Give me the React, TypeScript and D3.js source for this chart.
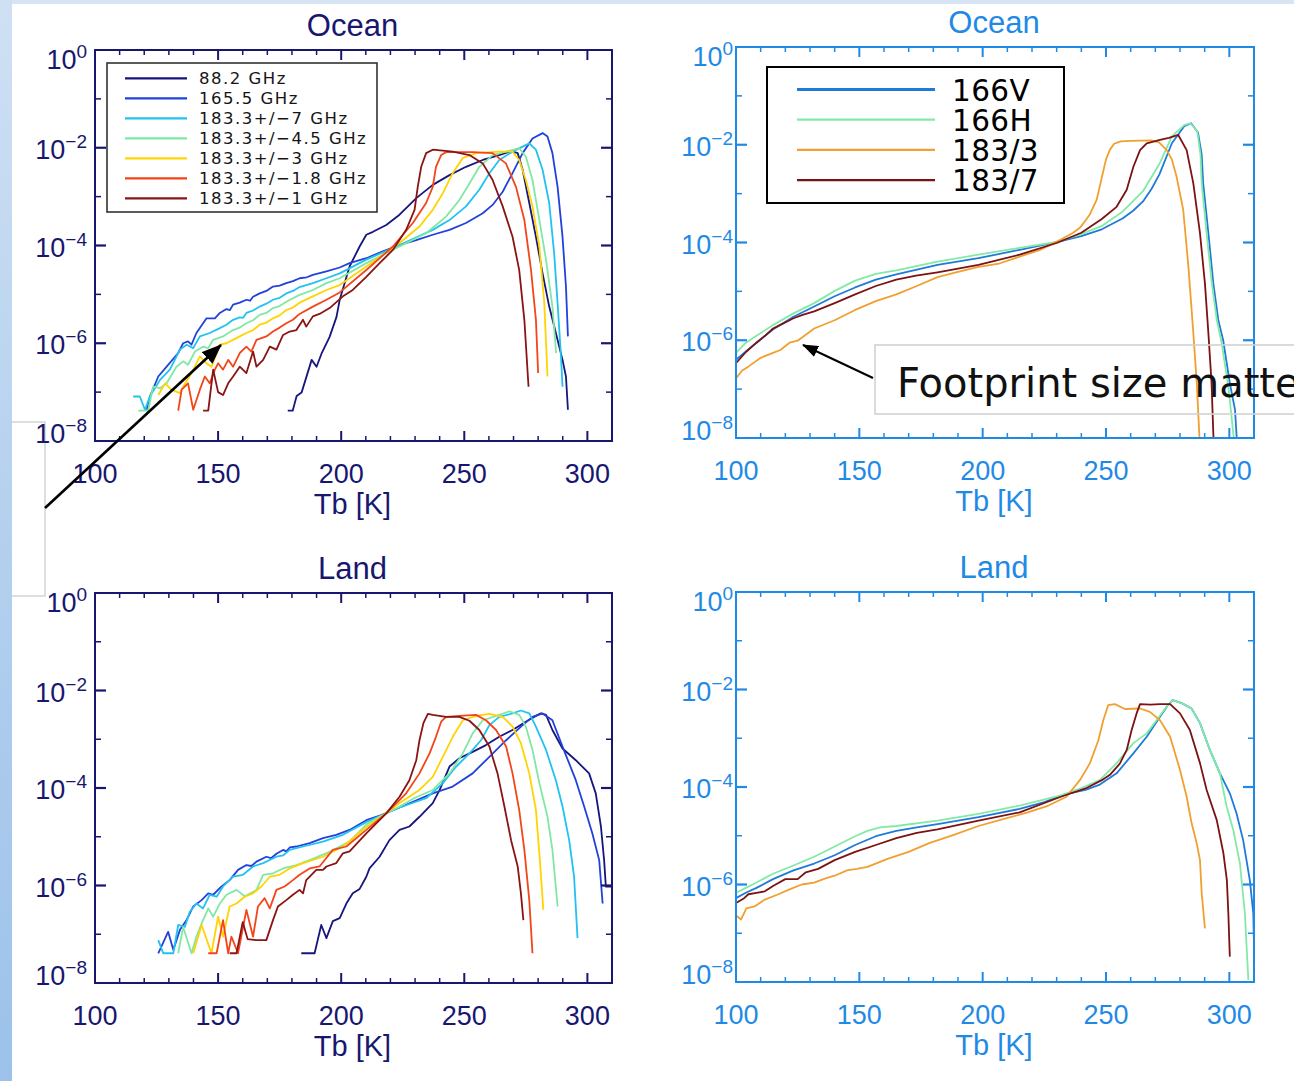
import React from 'react';
import * as d3 from 'd3';

type Pt = [number, number]; // [Tb in K, log10 of PDF]

// ---------- axes ----------
const X_DOMAIN: [number, number] = [100, 310];
const X_MAJOR = [100, 150, 200, 250, 300];
const X_MINOR = [110, 120, 130, 140, 160, 170, 180, 190, 210, 220, 230, 240, 260, 270, 280, 290];
const Y_LABEL_EXP = [0, -2, -4, -6, -8];
const Y_MINOR_EXP = [-1, -3, -5, -7];

// ---------- left column (channels) ----------
const leftNames = ['88.2 GHz', '165.5 GHz', '183.3+/\u22127 GHz', '183.3+/\u22124.5 GHz', '183.3+/\u22123 GHz', '183.3+/\u22121.8 GHz', '183.3+/\u22121 GHz'];
const leftColors = ['#16167e', '#2142da', '#22c2f0', '#80e8a2', '#ffd400', '#f2461a', '#8a1414'];

const oceanL88: Pt[] = [[178.3,-7.38],[180.3,-7.38],[181.9,-7.08],[183.9,-7.01],[188.0,-6.34],[190.0,-6.48],[192.1,-6.2],[195.3,-5.87],[198.1,-5.46],[199.4,-5.11],[203.4,-4.43],[207.5,-4.02],[210.2,-3.78],[212.9,-3.72],[218.3,-3.58],[223.7,-3.37],[230.5,-3.03],[237.2,-2.76],[244,-2.56],[250.7,-2.39],[257.5,-2.25],[264.2,-2.15],[269,-2.07],[271.7,-2.11],[273.7,-2.45],[276.4,-3.13],[279.1,-3.82],[281.8,-4.57],[284.5,-5.25],[287.2,-5.79],[289.9,-6.34],[291.3,-6.68],[292.1,-7.36]];
const oceanL165: Pt[] = [[121,-7.36],[122.3,-7.09],[125.7,-6.68],[129.1,-6.48],[133.8,-6.2],[135.8,-6.0],[137.8,-5.96],[139.2,-6.03],[141.2,-5.79],[145.3,-5.49],[148.7,-5.49],[150.7,-5.38],[153.4,-5.3],[154.8,-5.32],[156.1,-5.21],[158.8,-5.17],[161.5,-5.11],[163,-5.13],[164.2,-5.05],[166.9,-4.98],[169.6,-4.93],[172.3,-4.84],[175,-4.82],[177.7,-4.77],[180.4,-4.73],[183.1,-4.67],[186,-4.65],[188.5,-4.6],[194,-4.53],[199.4,-4.45],[203.4,-4.36],[210.2,-4.26],[216.9,-4.12],[223.7,-3.99],[230.5,-3.89],[237.2,-3.78],[244,-3.68],[250.7,-3.54],[257.5,-3.34],[261.5,-3.17],[265.6,-2.9],[269.6,-2.52],[273.7,-2.11],[277.7,-1.81],[281.8,-1.7],[283.8,-1.77],[285.8,-2.11],[287.9,-2.8],[289.9,-3.82],[291.3,-4.84],[292.1,-5.86]];
const oceanL7: Pt[] = [[115.5,-7.09],[118.2,-7.09],[120.3,-7.36],[122.3,-7.09],[126.4,-6.75],[130.4,-6.54],[134.5,-6.13],[137.2,-6.03],[139.9,-6.1],[142.6,-5.86],[146.6,-5.79],[150.7,-5.69],[153.4,-5.62],[156.1,-5.52],[158.8,-5.47],[160.2,-5.48],[161.5,-5.38],[164.2,-5.33],[166.9,-5.25],[169.6,-5.19],[172.3,-5.11],[175,-5.07],[177.7,-4.98],[180.4,-4.93],[183.1,-4.85],[188.5,-4.77],[194,-4.67],[199.4,-4.57],[210.2,-4.29],[223.7,-3.99],[237.2,-3.68],[244,-3.48],[250.7,-3.2],[256.1,-2.86],[260.2,-2.52],[264.2,-2.25],[269.6,-2.08],[276.4,-1.91],[279.1,-2.04],[281.8,-2.45],[284.5,-3.13],[286.5,-4.16],[287.9,-5.18],[289.2,-6.2],[289.9,-6.89]];
const oceanL45: Pt[] = [[117.6,-7.38],[121.6,-7.38],[123.6,-6.89],[126.4,-6.92],[129.1,-6.82],[133.1,-6.48],[135.8,-6.37],[137.8,-6.44],[140.6,-6.17],[143.9,-6.07],[146,-6.1],[148,-5.93],[152,-5.86],[156.1,-5.73],[158.8,-5.68],[161.5,-5.59],[164.2,-5.53],[166.9,-5.42],[169.6,-5.38],[172.3,-5.28],[175,-5.24],[177.7,-5.15],[183.1,-5.01],[188.5,-4.91],[194,-4.77],[199.4,-4.67],[210.2,-4.36],[223.7,-4.02],[234.5,-3.75],[242.6,-3.41],[248,-3.07],[252.1,-2.73],[256.1,-2.39],[261.5,-2.15],[266.9,-2.08],[272.3,-2.01],[275,-2.18],[277.7,-2.66],[280.5,-3.48],[283.2,-4.29],[285.8,-5.25],[287.3,-6.2]];
const oceanL3: Pt[] = [[125.7,-7.06],[128.5,-6.82],[131,-6.95],[134.5,-7.02],[135.8,-6.89],[139.2,-6.61],[142.6,-6.27],[145.3,-6.41],[147.3,-6.48],[148.7,-6.3],[150.7,-6.03],[153.4,-6.0],[156.1,-5.93],[158.8,-5.86],[161.5,-5.79],[164.2,-5.73],[166.9,-5.62],[169.6,-5.58],[172.3,-5.49],[175,-5.43],[177.7,-5.32],[180.4,-5.27],[183.1,-5.17],[188.5,-5.04],[194,-4.91],[199.4,-4.81],[210.2,-4.43],[223.7,-3.95],[231.8,-3.61],[237.2,-3.27],[241.3,-2.93],[245.3,-2.52],[249.4,-2.21],[254.8,-2.11],[264.2,-2.08],[269.6,-2.08],[272.3,-2.25],[275,-2.66],[277.7,-3.2],[280.5,-4.02],[282.5,-5.18],[283.8,-6.68]];
const oceanL18: Pt[] = [[133.8,-7.38],[135.2,-6.95],[137.8,-6.82],[139.9,-7.36],[142.6,-6.95],[144.6,-6.68],[146.6,-6.82],[148.7,-6.54],[150,-6.41],[152,-6.54],[154.1,-6.34],[156.1,-6.48],[158.8,-6.2],[161.5,-6.07],[163.5,-6.17],[165.6,-5.93],[169.6,-5.86],[172.3,-5.76],[175,-5.68],[177.7,-5.59],[180.4,-5.52],[183.1,-5.4],[188.5,-5.25],[194,-5.11],[199.4,-4.96],[210.2,-4.5],[221,-4.02],[229.1,-3.54],[234.5,-3.13],[237.2,-2.8],[238.5,-2.39],[240.6,-2.15],[242.6,-2.09],[253.4,-2.09],[261.5,-2.11],[266.9,-2.32],[271,-2.8],[274.4,-3.48],[277.1,-4.5],[279.1,-5.52],[280,-6.61]];
const oceanL1: Pt[] = [[143.9,-7.38],[146,-7.38],[148,-6.54],[150,-7.0],[152,-7.06],[154.1,-6.82],[156.1,-6.68],[158.8,-6.48],[161.5,-6.61],[164.2,-6.17],[165.6,-6.48],[168.3,-6.34],[171,-6.07],[173.7,-6.13],[176.4,-5.83],[179.1,-5.76],[181.8,-5.73],[184.5,-5.52],[185.8,-5.66],[188.5,-5.45],[191.2,-5.4],[195.3,-5.28],[200.7,-5.04],[204.7,-4.91],[210.2,-4.64],[215.6,-4.36],[221,-4.09],[226.4,-3.68],[229.8,-3.27],[231.1,-2.8],[232.5,-2.39],[234.5,-2.11],[237.2,-2.04],[245.3,-2.08],[252.1,-2.15],[257.5,-2.32],[261.5,-2.66],[265.6,-3.2],[269.6,-3.82],[272.3,-4.5],[274.4,-5.52],[276.1,-6.89]];

const landL88: Pt[] = [[183.8,-7.39],[189.2,-7.39],[191.9,-6.81],[194,-7.08],[196.6,-6.73],[199.4,-6.67],[202.1,-6.37],[204.7,-6.16],[207.5,-6.07],[210.2,-5.82],[211.5,-5.65],[215.6,-5.41],[219.6,-5.07],[223.7,-4.86],[227.7,-4.79],[231.8,-4.59],[237.2,-4.31],[240,-4.04],[244,-3.56],[248,-3.39],[253.4,-3.26],[258.8,-3.12],[264.2,-2.95],[269.6,-2.81],[275,-2.64],[279.1,-2.52],[281.1,-2.47],[283.2,-2.5],[285.8,-2.81],[289.9,-3.19],[295.3,-3.43],[300.7,-3.7],[303.4,-4.11],[305.5,-4.79],[306.8,-5.48],[307.5,-6.02],[310,-6.02]];
const landL165: Pt[] = [[125.7,-7.39],[129.7,-6.95],[131.8,-7.32],[134.5,-6.91],[137.2,-6.71],[139.9,-6.43],[143.3,-6.3],[146,-6.16],[148,-6.19],[151.4,-6.02],[154.7,-5.89],[158.1,-5.68],[161.5,-5.58],[163.5,-5.6],[165.6,-5.51],[169.6,-5.41],[171.5,-5.44],[173.7,-5.35],[176.4,-5.27],[177.7,-5.3],[179.1,-5.22],[181.8,-5.2],[187.2,-5.13],[192.6,-5.03],[198,-4.96],[203.4,-4.86],[210.2,-4.66],[216,-4.56],[223.7,-4.4],[237.2,-4.11],[245.3,-3.97],[253.4,-3.7],[260.2,-3.36],[267,-3.02],[273.7,-2.71],[277.7,-2.54],[281.8,-2.47],[285.8,-2.61],[289.9,-3.15],[295.3,-3.84],[298.7,-4.38],[302,-4.93],[304.8,-5.48],[306.2,-6.37]];
const landL7: Pt[] = [[125.7,-7.12],[127.7,-7.39],[131.8,-7.39],[133.8,-6.81],[136.5,-6.85],[138.5,-6.54],[141.2,-6.37],[143.9,-6.47],[146.6,-6.19],[149.4,-6.23],[152,-6.02],[156.1,-5.82],[160.1,-5.78],[164.2,-5.61],[168.3,-5.54],[173.7,-5.41],[176.5,-5.38],[179.1,-5.27],[184.5,-5.2],[192.6,-5.1],[200.7,-4.96],[210.2,-4.7],[216,-4.57],[223.7,-4.4],[234.5,-4.21],[241.3,-3.9],[246.7,-3.56],[252.1,-3.29],[256.8,-3.02],[260.2,-2.71],[264.2,-2.54],[269.6,-2.47],[273,-2.41],[276.4,-2.47],[279.1,-2.74],[283.2,-3.22],[287.2,-3.84],[289.9,-4.38],[292.6,-5.07],[294.6,-5.82],[296,-7.08]];
const landL45: Pt[] = [[133.8,-7.39],[135.8,-6.85],[139.2,-7.39],[141.2,-7.05],[143.3,-6.78],[146,-6.47],[148,-6.64],[150.7,-6.37],[153.4,-6.19],[157.5,-6.09],[160.8,-6.22],[165.6,-6.09],[168.3,-5.78],[172.3,-5.75],[176.4,-5.65],[181.8,-5.58],[187.2,-5.48],[195.3,-5.31],[203.4,-5.1],[210.2,-4.75],[216,-4.58],[223.7,-4.38],[230,-4.2],[237.2,-4.04],[244,-3.7],[249.4,-3.29],[253.4,-2.88],[257.5,-2.61],[264.2,-2.5],[268.3,-2.43],[272.3,-2.5],[275,-2.74],[277.7,-3.22],[280.5,-3.9],[283.8,-4.59],[285.8,-5.27],[287.9,-6.43]];
const landL3: Pt[] = [[139.9,-7.39],[143.3,-6.81],[147.3,-7.39],[150,-6.64],[152,-7.05],[154.7,-6.43],[157.5,-6.37],[160.8,-6.23],[164.2,-6.16],[167.6,-6.02],[171,-5.82],[175,-5.78],[179.1,-5.65],[184.5,-5.54],[192.6,-5.41],[200.7,-5.2],[210.2,-4.8],[216,-4.6],[223.7,-4.31],[231.8,-4.04],[237.2,-3.77],[241.3,-3.36],[245.3,-2.95],[249.4,-2.61],[254.8,-2.52],[260.2,-2.48],[265.6,-2.54],[269.6,-2.74],[273,-3.08],[276.4,-3.7],[279.1,-4.45],[280.7,-5.48],[282.1,-6.5]];
const landL18: Pt[] = [[146,-7.39],[149.4,-7.39],[152,-6.71],[154.1,-7.39],[155.4,-7.05],[158.1,-7.39],[161.5,-6.5],[164.2,-7.05],[166.2,-6.43],[168.9,-6.26],[171,-6.47],[173.7,-6.09],[177,-6.02],[180.4,-5.89],[183.1,-5.78],[187.2,-5.65],[191.2,-5.61],[196.6,-5.27],[202.1,-5.2],[210.2,-4.86],[218.3,-4.52],[226.4,-4.11],[231.8,-3.7],[235.9,-3.29],[238.5,-2.95],[240.6,-2.64],[242.6,-2.54],[248,-2.52],[254.8,-2.5],[258.8,-2.61],[262.9,-2.81],[267,-3.15],[269.6,-3.7],[272.3,-4.45],[274.4,-5.27],[276.4,-6.3],[277.7,-7.39]];
const landL1: Pt[] = [[154.7,-7.39],[157.5,-7.39],[160,-6.75],[162,-7.1],[165.6,-7.12],[169.6,-7.12],[172.3,-6.71],[174.3,-6.43],[177.7,-6.3],[180.4,-6.19],[183.1,-6.09],[184.5,-6.16],[185.8,-5.89],[189.9,-5.68],[192.6,-5.68],[194,-5.61],[198,-5.54],[200.7,-5.34],[203.4,-5.3],[210.2,-4.93],[218.3,-4.52],[223.7,-4.18],[227.7,-3.84],[230.5,-3.43],[231.8,-3.02],[233.4,-2.67],[235.2,-2.48],[237.2,-2.5],[242.6,-2.54],[248,-2.54],[252.1,-2.62],[256.1,-2.81],[260.2,-3.15],[263.5,-3.7],[266.3,-4.38],[269,-5.07],[271.7,-5.61],[273,-6.16],[274,-6.71]];

// ---------- right column (footprint) ----------
const rightNames = ['166V', '166H', '183/3', '183/7'];
const rightColors = ['#1f7ad8', '#82eaa6', '#f0a030', '#7c1212'];

const oceanR166V: Pt[] = [[100,-6.4],[105,-6.19],[110,-5.98],[115,-5.78],[123.3,-5.52],[131.7,-5.31],[140,-5.1],[148.3,-4.92],[156.7,-4.76],[165,-4.65],[181.7,-4.46],[198.3,-4.32],[215,-4.15],[230,-3.99],[240,-3.87],[248.3,-3.73],[256.7,-3.51],[261,-3.35],[265,-3.16],[268.5,-2.9],[271.7,-2.6],[276.7,-1.97],[281.7,-1.62],[284.5,-1.56],[287.3,-1.75],[288.8,-2.2],[289.4,-2.79],[291.5,-3.81],[293.5,-4.83],[295.5,-5.58],[297.5,-6.0],[300.2,-6.88],[302.3,-7.42],[303,-8.0]];
const oceanR166H: Pt[] = [[100,-6.26],[104,-6.05],[108.3,-5.91],[115,-5.69],[123.3,-5.45],[131.7,-5.24],[140,-4.99],[148.3,-4.78],[156.7,-4.64],[165,-4.57],[181.7,-4.39],[198.3,-4.25],[215,-4.11],[230,-3.99],[240,-3.83],[248.3,-3.66],[256.7,-3.37],[265,-2.95],[271.7,-2.39],[276.7,-1.83],[281.7,-1.6],[284.2,-1.56],[287,-1.72],[288.3,-2.2],[288.8,-2.79],[290.8,-3.81],[292.9,-4.83],[294.9,-5.58],[296.9,-6.06],[299.6,-6.95],[301.6,-7.9],[301.8,-8.0]];
const oceanR183_3: Pt[] = [[100,-6.78],[102.5,-6.62],[105,-6.54],[110,-6.36],[115,-6.26],[118,-6.2],[121.7,-6.05],[125,-6.01],[131.7,-5.76],[140,-5.59],[148.3,-5.38],[156.7,-5.2],[165,-5.06],[173.3,-4.89],[181.7,-4.71],[190,-4.6],[198.3,-4.5],[206.7,-4.43],[215,-4.29],[223.3,-4.15],[231.7,-3.94],[236.7,-3.8],[239.4,-3.7],[241.7,-3.55],[243.5,-3.42],[246.2,-3.13],[248.3,-2.67],[250,-2.3],[251.6,-2.1],[253.3,-1.98],[256,-1.93],[260,-1.92],[268.3,-1.91],[271.5,-1.95],[274.6,-2.11],[276.7,-2.3],[278.6,-2.65],[281.3,-3.33],[283.4,-4.49],[285.4,-5.85],[286.8,-6.88],[287.8,-7.9],[287.9,-8.0]];
const oceanR183_7: Pt[] = [[100,-6.47],[104,-6.24],[108.3,-6.05],[112,-5.9],[115,-5.76],[119,-5.66],[123.3,-5.55],[127,-5.48],[131.7,-5.41],[140,-5.24],[148.3,-5.06],[156.7,-4.89],[165,-4.76],[173,-4.68],[181.7,-4.61],[198.3,-4.46],[215,-4.25],[230,-4.01],[240,-3.8],[248.3,-3.52],[254.3,-3.27],[258.4,-2.92],[261.1,-2.45],[263.8,-2.11],[266.5,-1.97],[271.9,-1.9],[275.5,-1.86],[279.3,-1.8],[282.7,-2.11],[285.4,-2.79],[288.1,-3.81],[290.1,-4.83],[291.5,-5.85],[292.8,-6.88],[293.5,-7.9],[293.6,-8.0]];

const landR166V: Pt[] = [[100,-6.28],[104,-6.17],[108.3,-6.07],[115,-5.89],[123.3,-5.71],[131.7,-5.57],[140,-5.4],[148.3,-5.19],[156.7,-5.01],[165,-4.9],[173.3,-4.83],[181.7,-4.76],[198.3,-4.62],[215,-4.45],[225,-4.31],[233.3,-4.15],[241.7,-4.06],[247.5,-3.95],[254.3,-3.72],[261.1,-3.31],[266.5,-2.97],[271.9,-2.56],[275,-2.33],[277,-2.22],[280.7,-2.28],[284.7,-2.39],[288.1,-2.69],[292.1,-3.24],[296.2,-3.72],[300.2,-4.13],[302.9,-4.54],[305.6,-5.09],[308.3,-5.91],[309.7,-6.59],[310,-7.26]];
const landR166H: Pt[] = [[100,-6.17],[104,-6.07],[108.3,-5.96],[115,-5.78],[123.3,-5.61],[131.7,-5.43],[140,-5.22],[148.3,-5.01],[153.3,-4.9],[158.3,-4.83],[165,-4.8],[181.7,-4.69],[198.3,-4.55],[215,-4.38],[231.7,-4.17],[240,-4.02],[247.5,-3.86],[254.3,-3.51],[261.1,-3.1],[266.5,-2.9],[270.5,-2.63],[274.6,-2.35],[277,-2.22],[280.7,-2.28],[284.7,-2.39],[288.1,-2.69],[292.1,-3.24],[296.2,-3.72],[298.9,-4.4],[301.6,-4.88],[304.3,-5.57],[306.3,-6.59],[307.7,-7.96]];
const landR183_3: Pt[] = [[100,-6.63],[102,-6.72],[104.2,-6.49],[107.5,-6.45],[111.7,-6.31],[116.7,-6.21],[121.7,-6.1],[126.7,-6.0],[131.7,-5.96],[136,-5.88],[140,-5.82],[145,-5.71],[149,-5.68],[153.3,-5.64],[161.7,-5.47],[170,-5.33],[178.3,-5.15],[188.3,-4.98],[198.3,-4.8],[208.3,-4.66],[218.3,-4.52],[226.7,-4.38],[234,-4.2],[239.4,-3.86],[243.5,-3.51],[246.9,-3.04],[248.9,-2.63],[250.9,-2.32],[253.6,-2.3],[257.7,-2.4],[263.8,-2.39],[267.8,-2.46],[271.9,-2.63],[276,-2.97],[280,-3.65],[282.7,-4.2],[284.7,-4.74],[286.8,-5.16],[288.1,-5.5],[288.8,-6.18],[290.1,-6.9]];
const landR183_7: Pt[] = [[100,-6.38],[103.3,-6.28],[105,-6.2],[108.3,-6.17],[111.7,-6.14],[115,-6.03],[120,-5.89],[125,-5.89],[128.3,-5.75],[133.3,-5.68],[140,-5.5],[148.3,-5.33],[156.7,-5.19],[165,-5.05],[173.3,-4.94],[181.7,-4.87],[198.3,-4.69],[215,-4.52],[231.7,-4.2],[241.7,-4.03],[248.3,-3.86],[251.6,-3.75],[255.6,-3.52],[258.4,-3.24],[260.4,-2.83],[262.4,-2.49],[263.8,-2.3],[268,-2.31],[272,-2.3],[276,-2.3],[280,-2.49],[284,-2.83],[288.1,-3.51],[290.8,-4.06],[294.9,-4.68],[297.6,-5.36],[299,-5.91],[299.6,-6.59],[300.2,-7.48]];

const NAVY = '#17176f';
const BRIGHT = '#1f8ae6';
const NUM_FONT = '"Liberation Sans", Arial, sans-serif';

type PanelProps = {
  x0: number; x1: number; y0: number; y1: number;
  color: string; title: string; series: Pt[][]; colors: string[];
  labelGap: number; lw: number;
};

function Panel({ x0, x1, y0, y1, color, title, series, colors, labelGap, lw }: PanelProps) {
  const x = d3.scaleLinear().domain(X_DOMAIN).range([x0, x1]);
  const y = d3.scaleLog().domain([1e-8, 1]).range([y1, y0]);
  const line = d3.line<Pt>().x(d => x(d[0])).y(d => y(Math.pow(10, d[1])));
  const yOff = (e: number) => (e === 0 ? 19 : e === -8 ? 2 : 11);
  return (
    <g>
      <text x={(x0 + x1) / 2 - 1} y={y0 - 14} textAnchor="middle" fontFamily={NUM_FONT} fontSize={31} fill={color}>{title}</text>
      {series.map((s, i) => (
        <path key={i} d={line(s) || ''} fill="none" stroke={colors[i]} strokeWidth={lw} strokeLinejoin="round" />
      ))}
      <rect x={x0} y={y0} width={x1 - x0} height={y1 - y0} fill="none" stroke={color} strokeWidth={2} />
      {X_MAJOR.filter(v => v > 100).map(v => (
        <g key={'xm' + v}>
          <line x1={x(v)} x2={x(v)} y1={y1} y2={y1 - 10} stroke={color} strokeWidth={2} />
          <line x1={x(v)} x2={x(v)} y1={y0} y2={y0 + 10} stroke={color} strokeWidth={2} />
        </g>
      ))}
      {X_MINOR.map(v => (
        <g key={'xn' + v}>
          <line x1={x(v)} x2={x(v)} y1={y1} y2={y1 - 5} stroke={color} strokeWidth={1.5} />
          <line x1={x(v)} x2={x(v)} y1={y0} y2={y0 + 5} stroke={color} strokeWidth={1.5} />
        </g>
      ))}
      {Y_LABEL_EXP.filter(e => e !== 0 && e !== -8).map(e => (
        <g key={'ym' + e}>
          <line x1={x0} x2={x0 + 11} y1={y(Math.pow(10, e))} y2={y(Math.pow(10, e))} stroke={color} strokeWidth={2.2} />
          <line x1={x1} x2={x1 - 11} y1={y(Math.pow(10, e))} y2={y(Math.pow(10, e))} stroke={color} strokeWidth={2.2} />
        </g>
      ))}
      {Y_MINOR_EXP.map(e => (
        <g key={'yn' + e}>
          <line x1={x0} x2={x0 + 6} y1={y(Math.pow(10, e))} y2={y(Math.pow(10, e))} stroke={color} strokeWidth={1.5} />
          <line x1={x1} x2={x1 - 6} y1={y(Math.pow(10, e))} y2={y(Math.pow(10, e))} stroke={color} strokeWidth={1.5} />
        </g>
      ))}
      {X_MAJOR.map(v => (
        <text key={'xl' + v} x={x(v)} y={y1 + 42} textAnchor="middle" fontFamily={NUM_FONT} fontSize={27} fill={color}>{v}</text>
      ))}
      {Y_LABEL_EXP.map(e => (
        <text key={'yl' + e} x={x0 - labelGap} y={y(Math.pow(10, e)) + yOff(e)} textAnchor="end" fontFamily={NUM_FONT} fill={color}>
          <tspan fontSize={27}>10</tspan>
          <tspan fontSize={19} dy={-11}>{e === 0 ? '0' : '\u2212' + (-e)}</tspan>
        </text>
      ))}
      <text x={(x0 + x1) / 2 - 1} y={y1 + 73} textAnchor="middle" fontFamily={NUM_FONT} fontSize={29} fill={color}>Tb [K]</text>
    </g>
  );
}

export default function App() {
  const leftOcean = [oceanL88, oceanL165, oceanL7, oceanL45, oceanL3, oceanL18, oceanL1];
  const leftLand = [landL88, landL165, landL7, landL45, landL3, landL18, landL1];
  const rightOcean = [oceanR166V, oceanR166H, oceanR183_3, oceanR183_7];
  const rightLand = [landR166V, landR166H, landR183_3, landR183_7];
  return (
    <svg width={1294} height={1081} style={{ position: 'absolute', left: 0, top: 0, display: 'block', background: '#fff' }}>
      <defs>
        <linearGradient id="edge" x1="0" y1="0" x2="0" y2="1">
          <stop offset="0" stopColor="#cfe0f3" />
          <stop offset="0.5" stopColor="#b4d0ee" />
          <stop offset="1" stopColor="#9cc2ea" />
        </linearGradient>
        <marker id="ahL" viewBox="0 0 20 16" refX="19" refY="8" markerWidth="20" markerHeight="16" markerUnits="userSpaceOnUse" orient="auto">
          <path d="M0,0 L20,8 L0,16 Z" fill="#000" />
        </marker>
        <marker id="ahR" viewBox="0 0 16 12" refX="15" refY="6" markerWidth="16" markerHeight="12" markerUnits="userSpaceOnUse" orient="auto">
          <path d="M0,0 L16,6 L0,12 Z" fill="#000" />
        </marker>
        <clipPath id="pageClip"><rect x={0} y={0} width={1294} height={1081} /></clipPath>
      </defs>
      <rect x={0} y={0} width={1294} height={1081} fill="#fff" />
      <rect x={0} y={0} width={1294} height={4} fill="#d6e4f4" />
      <rect x={0} y={0} width={12} height={1081} fill="url(#edge)" />
      <path d="M12,422 L45,422 L45,596 L12,596" fill="none" stroke="#d4d4d4" strokeWidth={1.5} />

      <Panel x0={95} x1={612} y0={50} y1={441} color={NAVY} title="Ocean" series={leftOcean} colors={leftColors} labelGap={8} lw={1.8} />
      <Panel x0={95} x1={612} y0={593} y1={983} color={NAVY} title="Land" series={leftLand} colors={leftColors} labelGap={8} lw={1.8} />
      <Panel x0={736} x1={1254} y0={47} y1={438} color={BRIGHT} title="Ocean" series={rightOcean} colors={rightColors} labelGap={3} lw={1.8} />
      <Panel x0={736} x1={1254} y0={592} y1={982} color={BRIGHT} title="Land" series={rightLand} colors={rightColors} labelGap={3} lw={1.8} />

      {/* left legend */}
      <rect x={107} y={63} width={270} height={149} fill="#fff" stroke="#333" strokeWidth={1.6} />
      {leftNames.map((n, i) => (
        <g key={n}>
          <line x1={125} x2={187} y1={78.3 + 20 * i} y2={78.3 + 20 * i} stroke={leftColors[i]} strokeWidth={2.2} />
          <text x={199} y={84.3 + 20 * i} fontFamily='"DejaVu Sans", sans-serif' fontSize={16.5} letterSpacing={1.5} fill="#151515">{n}</text>
        </g>
      ))}

      {/* right legend */}
      <rect x={767} y={67} width={297} height={136} fill="#fff" stroke="#000" strokeWidth={2} />
      {rightNames.map((n, i) => (
        <g key={n}>
          <line x1={797} x2={935} y1={89.5 + 30.2 * i} y2={89.5 + 30.2 * i} stroke={rightColors[i]} strokeWidth={i === 0 ? 3 : 2.2} />
          <text x={952} y={100.5 + 30.2 * i} fontFamily='"DejaVu Sans", sans-serif' fontSize={29.5} letterSpacing={0.4} fill="#000">{n}</text>
        </g>
      ))}

      {/* annotations */}
      <line x1={45} y1={508} x2={221} y2={345} stroke="#000" strokeWidth={2.6} markerEnd="url(#ahL)" />
      <g clipPath="url(#pageClip)">
        <rect x={875} y={345} width={440} height={69} fill="none" stroke="#d2d2d2" strokeWidth={1.6} />
        <text x={897} y={397} fontFamily='"DejaVu Sans", sans-serif' fontSize={40} fill="#111">Footprint size matters</text>
      </g>
      <line x1={873} y1={378} x2={803} y2={345} stroke="#000" strokeWidth={2} markerEnd="url(#ahR)" />
    </svg>
  );
}
